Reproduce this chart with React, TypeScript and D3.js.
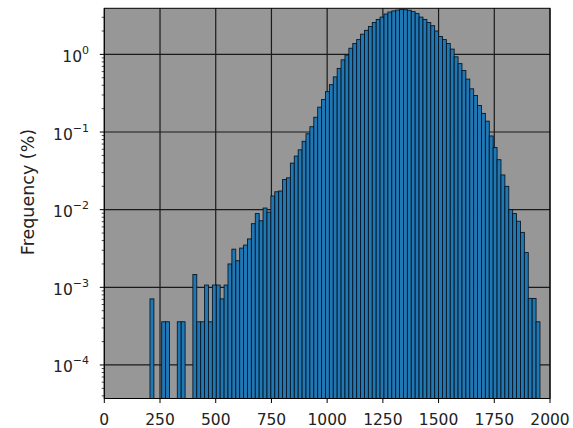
import React from "react";
import * as d3 from "d3";

// Histogram bins (data units)
const binStart = 205;
const binWidth = 17.5;

// Frequency (%) per bin (0 = empty bin)
const freqs: number[] = [
  7.1e-4, 0, 0, 3.6e-4, 3.6e-4, 0, 0, 3.6e-4, 3.6e-4, 0,
  0, 1.46e-3, 3.6e-4, 3.6e-4, 1.07e-3, 3.6e-4, 1.07e-3, 1.07e-3, 7.1e-4, 1.07e-3,
  2.0e-3, 3.1e-3, 2.2e-3, 3.2e-3, 3.5e-3, 4.2e-3, 6.6e-3, 8.9e-3, 7.2e-3, 1.05e-2,
  9.3e-3, 1.5e-2, 1.7e-2, 1.74e-2, 2.45e-2, 2.57e-2, 3.98e-2, 4.9e-2, 5.9e-2, 0.076,
  0.095, 0.117, 0.155, 0.209, 0.263, 0.331, 0.407, 0.513, 0.66, 0.85,
  0.98, 1.2, 1.38, 1.55, 1.82, 2.04, 2.29, 2.57, 2.82, 3.02,
  3.31, 3.51, 3.63, 3.72, 3.8, 3.76, 3.7, 3.55, 3.35, 3.02,
  2.82, 2.57, 2.34, 2.0, 1.7, 1.55, 1.38, 1.17, 0.93, 0.76,
  0.62, 0.48, 0.36, 0.295, 0.22, 0.174, 0.138, 0.089, 0.063, 0.044,
  0.028, 0.02, 0.01, 0.0089, 0.0071, 0.0051, 0.0028, 7.2e-4, 7.2e-4, 3.6e-4,
];

const xTicks = [0, 250, 500, 750, 1000, 1250, 1500, 1750, 2000];
const yTickExps = [-4, -3, -2, -1, 0];
const yLabel = "Frequency (%)";

const W = 573;
const H = 428;
const left = 104.3;
const right = 550;
const top = 8.3;
const bottom = 398.5;
const FONT = "DejaVu Sans, sans-serif";

export default function App() {
  const x = d3.scaleLinear().domain([0, 2000]).range([left, right]);
  const y = d3.scaleLog().domain([3.7e-5, 3.92]).range([bottom, top]);
  const [yMin, yMax] = y.domain();

  const minor: number[] = [];
  for (let e = -5; e <= 0; e++) {
    for (let m = 2; m <= 9; m++) {
      const v = m * Math.pow(10, e);
      if (v >= yMin && v <= yMax) minor.push(v);
    }
  }

  const bins = freqs.map((f, i) => ({
    x0: binStart + i * binWidth,
    x1: binStart + (i + 1) * binWidth,
    f,
  }));

  return (
    <svg
      width={W}
      height={H}
      style={{ position: "absolute", left: 0, top: 0, background: "#fff" }}
      fontFamily={FONT}
    >
      <defs>
        <clipPath id="plot">
          <rect x={left} y={top} width={right - left} height={bottom - top} />
        </clipPath>
      </defs>
      <rect x={left} y={top} width={right - left} height={bottom - top} fill="#979797" />
      {/* grid */}
      <g stroke="#1a1a1a" strokeWidth={1.2}>
        {xTicks.map((t) => (
          <line key={"gx" + t} x1={x(t)} x2={x(t)} y1={top} y2={bottom} />
        ))}
        {yTickExps.map((e) => (
          <line key={"gy" + e} x1={left} x2={right} y1={y(Math.pow(10, e))} y2={y(Math.pow(10, e))} />
        ))}
      </g>
      {/* bars */}
      <g clipPath="url(#plot)">
        {bins
          .filter((b) => b.f > 0)
          .map((b, i) => (
            <rect
              key={i}
              x={x(b.x0)}
              width={x(b.x1) - x(b.x0)}
              y={y(b.f)}
              height={bottom + 2 - y(b.f)}
              fill="#1f77b4"
              stroke="#05121f"
              strokeWidth={0.85}
            />
          ))}
      </g>
      {/* spines */}
      <rect x={left} y={top} width={right - left} height={bottom - top} fill="none" stroke="#000" strokeWidth={1} />
      {/* x ticks */}
      <g>
        {xTicks.map((t) => (
          <g key={"xt" + t}>
            <line x1={x(t)} x2={x(t)} y1={bottom} y2={bottom + 4.5} stroke="#000" strokeWidth={1} />
            <text x={x(t)} y={425} textAnchor="middle" fontSize={15.5} fill="#222">
              {t}
            </text>
          </g>
        ))}
      </g>
      {/* y ticks */}
      <g>
        {minor.map((v, i) => (
          <line key={"mn" + i} x1={left - 2.6} x2={left} y1={y(v)} y2={y(v)} stroke="#000" strokeWidth={0.7} />
        ))}
        {yTickExps.map((e) => {
          const yy = y(Math.pow(10, e));
          const sup = e < 0 ? "\u2212" + Math.abs(e) : String(e);
          return (
            <g key={"yt" + e}>
              <line x1={left - 4.5} x2={left} y1={yy} y2={yy} stroke="#000" strokeWidth={1} />
              <text x={89} y={yy + 7.5} textAnchor="end" fontSize={15.5} fill="#222">
                <tspan>10</tspan>
                <tspan dy={-8} fontSize={11}>{sup}</tspan>
              </text>
            </g>
          );
        })}
      </g>
      <text
        transform={`translate(34, 192) rotate(-90)`}
        textAnchor="middle"
        fontSize={17.5}
        fill="#222"
      >
        {yLabel}
      </text>
    </svg>
  );
}
